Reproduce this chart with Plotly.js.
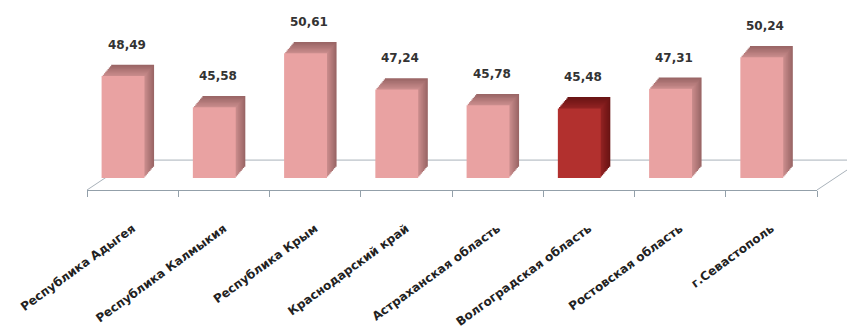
<!DOCTYPE html>
<html>
<head>
<meta charset="utf-8">
<script src="https://cdn.plot.ly/plotly-3.0.1.min.js"></script>
<style>html,body{margin:0;padding:0;background:#fff;}#chart{width:847px;height:330px;}</style>
</head>
<body>
<div id="chart"></div>
<script>
const categories = ["Республика Адыгея", "Республика Калмыкия", "Республика Крым", "Краснодарский край", "Астраханская область", "Волгоградская область", "Ростовская область", "г.Севастополь"];
const values = [48.49, 45.58, 50.61, 47.24, 45.78, 45.48, 47.31, 50.24];
const highlightIndex = 5;
const valueLabels = values.map(v => v.toFixed(2).replace('.', ','));

const FLOOR = 39;      // floor level of the pseudo-3D box
const DEPTH = 1.05;    // vertical depth shift (in axis units) for the 3D look
const LAYERS = 8;

const pick = (normal, hi) => categories.map((c, i) => i === highlightIndex ? hi : normal);
const lengths = values.map(v => v - FLOOR);

function mix(a, b, t) {
  const pa = [1,3,5].map(j => parseInt(a.substr(j, 2), 16));
  const pb = [1,3,5].map(j => parseInt(b.substr(j, 2), 16));
  return 'rgb(' + pa.map((v, j) => Math.round(v + (pb[j] - v) * t)).join(',') + ')';
}

const traces = [];
for (let k = LAYERS; k >= 0; k--) {
  const t = k / LAYERS;
  const isFront = k === 0;
  traces.push({
    type: 'bar', x: categories, y: lengths, base: FLOOR + DEPTH * t,
    offset: -0.34 + 0.105 * t, width: 0.47,
    marker: {
      color: isFront ? pick('#e9a2a2', '#b2302e')
                     : pick(mix('#cf9090', '#9a6666', t), mix('#962424', '#6a1414', t)),
      line: {width: 0}
    },
    hoverinfo: 'skip', showlegend: false
  });
}

const annotations = categories.map((c, i) => ({
  x: c, y: values[i], xref: 'x', yref: 'y',
  text: valueLabels[i], showarrow: false,
  xshift: -6, yshift: 31, yanchor: 'middle',
  font: {family: 'DejaVu Sans', size: 12, color: '#333', weight: 'bold'}
}));

const floorColor = '#a9b2ba';
const layout = {
  width: 847, height: 330,
  margin: {l: 87, r: 30, t: 20, b: 140, pad: 0},
  paper_bgcolor: '#ffffff', plot_bgcolor: 'rgba(0,0,0,0)',
  barmode: 'overlay',
  showlegend: false,
  xaxis: {
    type: 'category',
    showline: true, linecolor: '#93a0aa', linewidth: 1,
    ticks: 'outside', tickson: 'boundaries', ticklen: 6, tickcolor: '#93a0aa',
    tickangle: -36, ticklabelstandoff: 26,
    tickfont: {family: 'DejaVu Sans', size: 12, color: '#222', weight: 'bold'},
    showgrid: false, zeroline: false, fixedrange: true
  },
  yaxis: {
    range: [37.88, 53.71], visible: false, showgrid: false, zeroline: false, fixedrange: true
  },
  annotations: annotations,
  shapes: [
    {type: 'line', xref: 'paper', yref: 'paper', x0: 0.0616, y0: 0.176, x1: 1.1, y1: 0.176,
     line: {color: floorColor, width: 1}, layer: 'below'},
    {type: 'line', xref: 'paper', yref: 'paper', x0: 0, y0: 0, x1: 0.0616, y1: 0.176,
     line: {color: floorColor, width: 1}, layer: 'below'},
    {type: 'line', xref: 'paper', yref: 'paper', x0: 1, y0: 0, x1: 1.0616, y1: 0.176,
     line: {color: floorColor, width: 1}, layer: 'below'}
  ]
};

Plotly.newPlot('chart', traces, layout, {displayModeBar: false, staticPlot: true});
</script>
</body>
</html>
